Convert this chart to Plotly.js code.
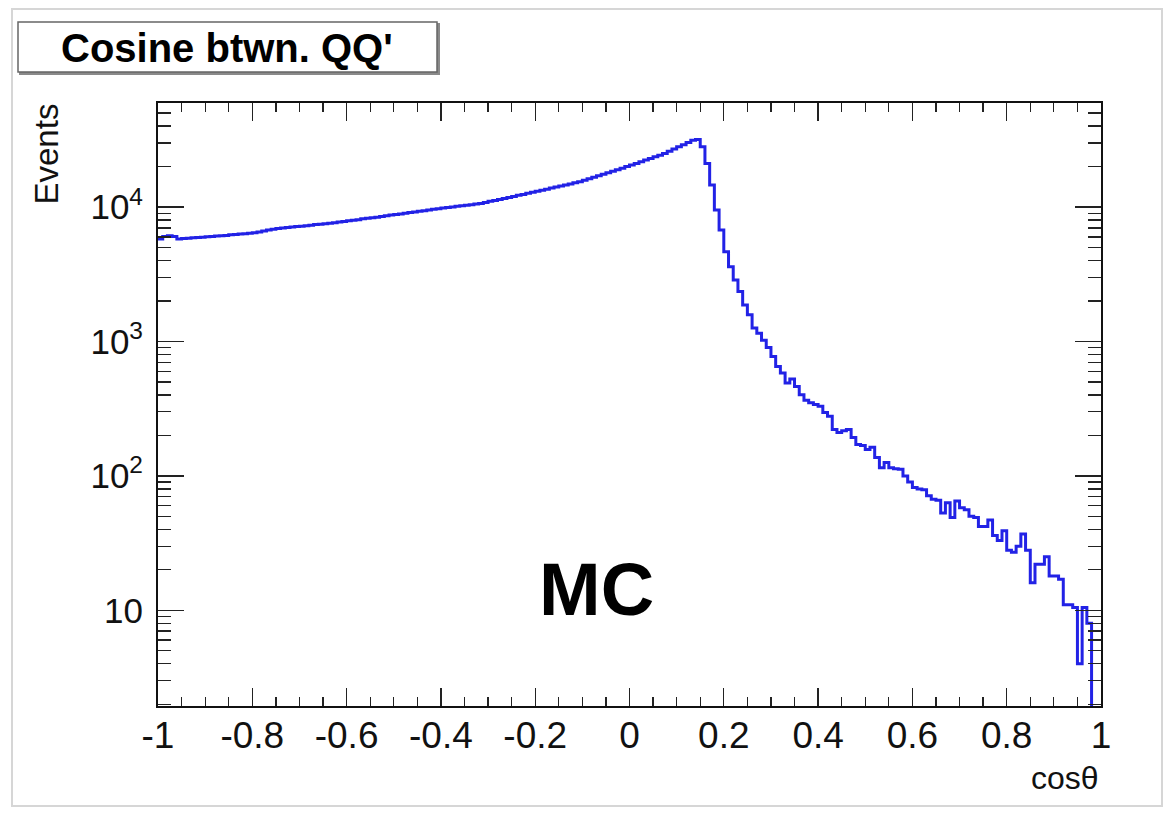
<!DOCTYPE html>
<html>
<head>
<meta charset="utf-8">
<script src="https://cdn.plot.ly/plotly-3.0.1.min.js"></script>
<style>
  html, body { margin: 0; padding: 0; background: #ffffff; }
  #chart { width: 1170px; height: 814px; }
</style>
</head>
<body>
<div id="chart"></div>
<script>
// Histogram definition: 200 bins on [-1, 1]
const binLow = -1.0;
const binWidth = 0.01;

// Bin contents (events per bin)
const counts = [
  5780, 6030, 6110, 6050, 5790, 5830, 5860, 5900, 5930, 5970,
  6010, 6040, 6080, 6110, 6150, 6210, 6250, 6300, 6320, 6380,
  6440, 6520, 6640, 6760, 6850, 6920, 6980, 7030, 7100, 7150,
  7190, 7260, 7310, 7400, 7450, 7500, 7570, 7640, 7730, 7800,
  7890, 7980, 8050, 8170, 8240, 8340, 8410, 8510, 8610, 8710,
  8790, 8890, 8990, 9100, 9200, 9290, 9400, 9510, 9620, 9700,
  9820, 9910, 10020, 10120, 10210, 10330, 10420, 10520, 10640, 10810,
  11020, 11190, 11400, 11590, 11800, 12000, 12220, 12420, 12650, 12880,
  13090, 13340, 13580, 13840, 14090, 14360, 14590, 14860, 15140, 15420,
  15810, 16220, 16670, 17100, 17540, 18030, 18490, 18970, 19450, 20000,
  20510, 21090, 21730, 22340, 22960, 23660, 24320, 25060, 26000, 27040,
  28050, 29110, 30270, 31400, 31770, 28100, 21100, 14600, 9500, 6750,
  4650, 3600, 2870, 2350, 1870, 1580, 1260, 1150, 1020, 900,
  774, 652, 582, 491, 526, 463, 402, 365, 350, 339,
  329, 296, 278, 221, 210, 217, 221, 193, 171, 168,
  157, 163, 137, 115, 126, 115, 113, 112, 100, 90,
  82, 80, 79, 71, 67, 66, 53, 63, 49, 65,
  58, 56, 50, 49, 42, 42, 47, 36, 33, 39,
  28, 27, 30, 37, 28, 16, 22, 22, 25, 18,
  18, 17, 11, 11, 10.5, 4, 10.5, 8, 0, 0
];

// Axis tick labels
const xTickVals = [-1, -0.8, -0.6, -0.4, -0.2, 0, 0.2, 0.4, 0.6, 0.8, 1];
const xTickText = ['-1', '-0.8', '-0.6', '-0.4', '-0.2', '0', '0.2', '0.4', '0.6', '0.8', '1'];
const yTickVals = [10, 100, 1000, 10000];
const yTickText = ['10', '10<sup>2</sup>', '10<sup>3</sup>', '10<sup>4</sup>'];

const titleText = "Cosine btwn. QQ'";
const xTitle = 'cos\u03B8';
const yTitle = 'Events';
const labelText = 'MC';

// Build step outline from bin edges (empty bins pushed below the visible range)
const xs = [], ys = [];
for (let i = 0; i < counts.length; i++) {
  xs.push(binLow + i * binWidth);
  ys.push(counts[i] > 0 ? counts[i] : 1e-3);
}
xs.push(binLow + counts.length * binWidth);
ys.push(counts[counts.length - 1] > 0 ? counts[counts.length - 1] : 1e-3);

// Minor log ticks
const yMinor = [];
[1, 10, 100, 1000, 10000].forEach(d => {
  for (let k = 2; k <= 9; k++) yMinor.push(k * d);
});

const FONT = 'Liberation Sans, Arial, Helvetica, sans-serif';

// pixel helpers for layout decorations
const L = 158, R = 1101, T = 103, B = 706;
const px = v => (v - L) / (R - L);
const py = v => (B - v) / (B - T);

const trace = {
  x: xs,
  y: ys,
  type: 'scatter',
  mode: 'lines',
  line: { shape: 'hv', color: '#2222e6', width: 3 },
  hoverinfo: 'skip'
};

const layout = {
  width: 1170,
  height: 814,
  margin: { l: L, r: 1170 - R, t: T, b: 814 - B, pad: 0 },
  paper_bgcolor: '#ffffff',
  plot_bgcolor: '#ffffff',
  showlegend: false,
  font: { family: FONT, color: '#111111' },
  xaxis: {
    range: [-1, 1],
    tickmode: 'array',
    tickvals: xTickVals,
    ticktext: xTickText,
    ticks: 'inside',
    ticklen: 18,
    tickwidth: 1.3,
    tickcolor: '#222',
    minor: { dtick: 0.05, ticks: 'inside', ticklen: 9, tickwidth: 1.3, tickcolor: '#222', showgrid: false },
    showline: true,
    linecolor: '#111',
    linewidth: 2,
    mirror: 'ticks',
    showgrid: false,
    zeroline: false,
    tickfont: { size: 37, family: FONT, color: '#111' },
    ticklabelstandoff: -4
  },
  yaxis: {
    type: 'log',
    range: [0.288, 4.774],
    tickmode: 'array',
    tickvals: yTickVals,
    ticktext: yTickText,
    ticks: 'inside',
    ticklen: 26,
    tickwidth: 1.3,
    tickcolor: '#222',
    minor: { tickmode: 'array', tickvals: yMinor, ticks: 'inside', ticklen: 13, tickwidth: 1.3, tickcolor: '#222', showgrid: false },
    showline: true,
    linecolor: '#111',
    linewidth: 2,
    mirror: 'ticks',
    showgrid: false,
    zeroline: false,
    tickfont: { size: 35, family: FONT, color: '#111' },
    ticklabelstandoff: 6
  },
  shapes: [
    { type: 'rect', xref: 'paper', yref: 'paper', x0: px(12), x1: px(1162), y0: py(9), y1: py(806),
      line: { color: '#d6d6d6', width: 2 }, fillcolor: 'rgba(0,0,0,0)', layer: 'below' },
    { type: 'rect', xref: 'paper', yref: 'paper', x0: px(20), x1: px(439), y0: py(24), y1: py(74),
      line: { color: '#8a8a8a', width: 2 }, fillcolor: '#8a8a8a' },
    { type: 'rect', xref: 'paper', yref: 'paper', x0: px(18), x1: px(437), y0: py(22), y1: py(72),
      line: { color: '#666666', width: 1.5 }, fillcolor: '#ffffff' }
  ],
  annotations: [
    { text: '<b>' + titleText + '</b>', xref: 'paper', yref: 'paper', x: px(227), y: py(48),
      xanchor: 'center', yanchor: 'middle', showarrow: false,
      font: { size: 40, family: FONT, color: '#000' } },
    { text: yTitle, xref: 'paper', yref: 'paper', x: px(46), y: py(102),
      xanchor: 'center', yanchor: 'top', textangle: -90, showarrow: false,
      font: { size: 33, family: FONT, color: '#111' } },
    { text: xTitle, xref: 'paper', yref: 'paper', x: px(1101), y: py(778),
      xanchor: 'right', yanchor: 'middle', showarrow: false,
      font: { size: 32, family: FONT, color: '#111' } },
    { text: '<b>' + labelText + '</b>', xref: 'paper', yref: 'paper', x: px(596), y: py(589),
      xanchor: 'center', yanchor: 'middle', showarrow: false,
      font: { size: 74, family: FONT, color: '#000' } }
  ]
};

Plotly.newPlot('chart', [trace], layout, { displayModeBar: false, staticPlot: true });
</script>
</body>
</html>
